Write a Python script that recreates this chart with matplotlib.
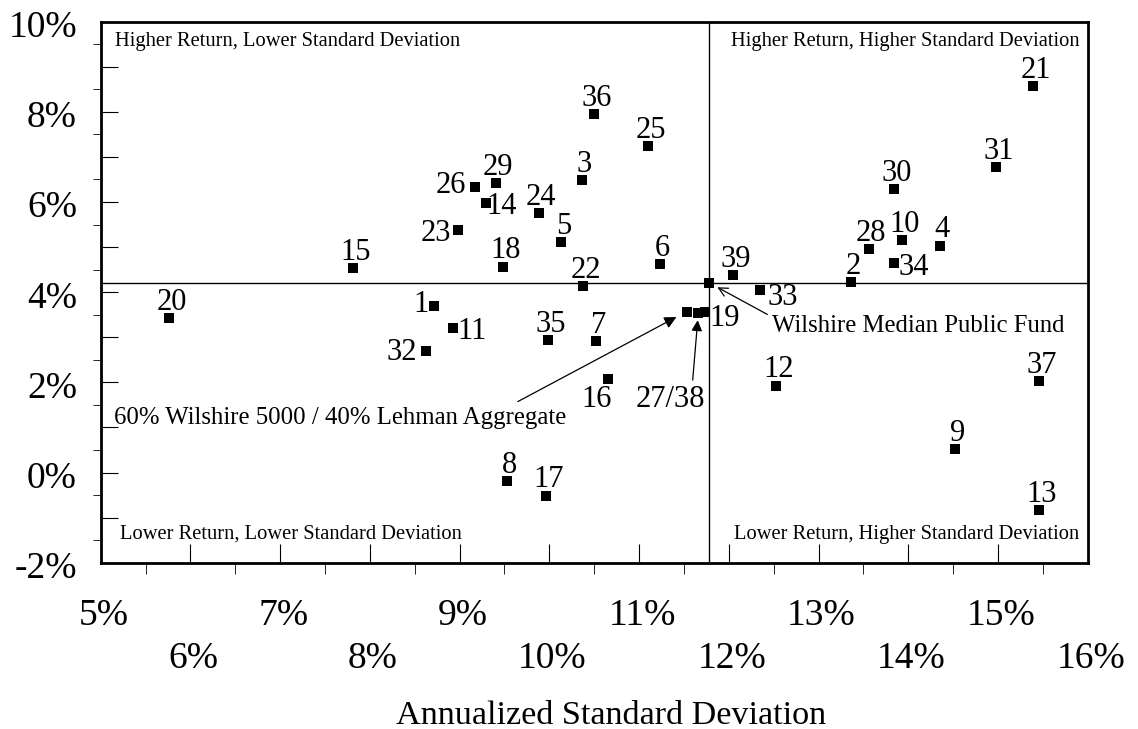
import matplotlib
matplotlib.use("Agg")
import matplotlib.pyplot as plt
import numpy as np

plt.rcParams['font.family'] = ['Liberation Serif', 'DejaVu Serif']

# funds: annualized standard deviation (%) and annualized return (%)
fund_labels = ["1", "2", "3", "4", "5", "6", "7", "8", "9", "10",
               "11", "12", "13", "14", "15", "16", "17", "18", "19", "20",
               "21", "22", "23", "24", "25", "26", "27/38", "28", "29", "30",
               "31", "32", "33", "34", "35", "36", "37", "39"]
fund_std = [8.71, 13.36, 10.36, 14.35, 10.13, 11.23, 10.52, 9.53, 14.52, 13.93,
            8.93, 12.53, 15.46, 9.29, 7.81, 10.65, 9.96, 9.48, 11.73, 5.76,
            15.39, 10.38, 8.98, 9.88, 11.10, 9.17, 11.66, 13.56, 9.40, 13.84,
            14.98, 8.63, 12.35, 13.84, 9.99, 10.50, 15.46, 12.05]
fund_ret = [3.70, 4.23, 6.48, 5.03, 5.11, 4.62, 2.91, -0.19, 0.52, 5.15,
            3.21, 1.93, -0.84, 5.98, 4.54, 2.07, -0.51, 4.57, 3.55, 3.42,
            8.57, 4.14, 5.39, 5.75, 7.24, 6.33, 3.53, 4.96, 6.42, 6.29,
            6.78, 2.70, 4.05, 4.64, 2.94, 7.95, 2.03, 4.38]

# benchmarks
median_name = "Wilshire Median Public Fund"
median_std, median_ret = 11.78, 4.21
mix_name = "60% Wilshire 5000 / 40% Lehman Aggregate"
mix_std, mix_ret = 11.53, 3.57

x_ticks = list(range(5, 17))
y_ticks = list(range(-2, 11, 2))

quadrants = ["Higher Return, Lower Standard Deviation",
             "Higher Return, Higher Standard Deviation",
             "Lower Return, Lower Standard Deviation",
             "Lower Return, Higher Standard Deviation"]

# label placement in pixels relative to the marker (dx, dy up, ha)
label_place = {
    "1": (-5, -6, 'right'), "23": (-6.8, -11.4, 'right'),
    "26": (-8.6, -6, 'right'), "32": (-9, -9.3, 'right'),
    "11": (3.6, -11.6, 'left'), "14": (1, -10.6, 'left'),
    "19": (4.7, -13.4, 'left'), "33": (7, -15, 'left'),
    "34": (5, -11.7, 'left'), "16": (-10.7, -27.7, 'center'),
}

fig = plt.figure(figsize=(11.38, 7.29), dpi=100)
ax = fig.add_axes([100.7 / 1138, 1 - 562.7 / 729, 987 / 1138, 541 / 729])
ax.set_xlim(5, 16)
ax.set_ylim(-2, 10)

for s in ax.spines.values():
    s.set_linewidth(2.0)

ax.set_xticks(x_ticks)
ax.set_xticks(np.arange(5.5, 16, 1), minor=True)
ax.set_yticks(range(-2, 11))
ax.set_yticks(np.arange(-1.5, 10, 1), minor=True)
ax.tick_params(labelbottom=False, labelleft=False, direction='in', width=0.8)
ax.tick_params(axis='x', which='major', length=13.5)
ax.tick_params(axis='x', which='minor', length=7.6)
ax.tick_params(axis='y', which='major', length=12.2)
ax.tick_params(axis='y', which='minor', length=5.9)

# tick labels
for v in y_ticks:
    ax.annotate(f"{v}%", xy=(0, v), xycoords=ax.get_yaxis_transform(),
                xytext=(-23.8, -15.3), textcoords='offset pixels',
                ha='right', va='baseline', fontsize=27)
for i, v in enumerate(x_ticks):
    off = -62.3 if i % 2 == 0 else -105.6
    ax.annotate(f"{v}%", xy=(v, 0), xycoords=ax.get_xaxis_transform(),
                xytext=(3, off), textcoords='offset pixels',
                ha='center', va='baseline', fontsize=27)

ax.annotate("Annualized Standard Deviation", xy=(0.5, 0), xycoords='axes fraction',
            xytext=(17, -161.3), textcoords='offset pixels',
            ha='center', va='baseline', fontsize=24.6)

# quadrant dividers through the median fund
ax.axvline(median_std, color='black', lw=1.0)
ax.axhline(median_ret, color='black', lw=1.0)

ax.annotate(quadrants[0], xy=(0, 1), xycoords='axes fraction', xytext=(14.3, -24.3),
            textcoords='offset pixels', ha='left', va='baseline', fontsize=14.8)
ax.annotate(quadrants[1], xy=(1, 1), xycoords='axes fraction', xytext=(-8, -24.3),
            textcoords='offset pixels', ha='right', va='baseline', fontsize=14.8)
ax.annotate(quadrants[2], xy=(0, 0), xycoords='axes fraction', xytext=(18.8, 23.7),
            textcoords='offset pixels', ha='left', va='baseline', fontsize=14.8)
ax.annotate(quadrants[3], xy=(1, 0), xycoords='axes fraction', xytext=(-8, 23.7),
            textcoords='offset pixels', ha='right', va='baseline', fontsize=14.8)

# markers
ax.plot(fund_std, fund_ret, 's', color='black', ms=7.2, mew=0, zorder=3)
ax.plot([median_std, mix_std], [median_ret, mix_ret], 's', color='black', ms=7.2, mew=0, zorder=3)

for lab, xs, ys in zip(fund_labels, fund_std, fund_ret):
    if lab == "27/38":
        ax.annotate(lab, xy=(xs, ys), xytext=(-27.7, -93.4), textcoords='offset pixels',
                    ha='center', va='baseline', fontsize=22)
        ax.annotate("", xy=(xs, ys), xytext=(-5.6, -66.7), textcoords='offset pixels',
                    arrowprops=dict(arrowstyle='-|>', color='black', lw=0.9,
                                    shrinkA=0, shrinkB=4.9, mutation_scale=16))
        continue
    dx, dy, ha = label_place.get(lab, (2.5, 8.3, 'center'))
    ax.annotate(lab, xy=(xs, ys), xytext=(dx, dy), textcoords='offset pixels',
                ha=ha, va='baseline', fontsize=22)

# benchmark annotations
ax.annotate(median_name, xy=(median_std, median_ret), xytext=(62.6, -49.4),
            textcoords='offset pixels', ha='left', va='baseline', fontsize=17.8)
ax.annotate("", xy=(median_std, median_ret), xytext=(58.3, -31.7), textcoords='offset pixels',
            arrowprops=dict(arrowstyle='->', color='black', lw=0.9,
                            shrinkA=0, shrinkB=6.8, mutation_scale=16))
ax.annotate(mix_name, xy=(mix_std, mix_ret), xytext=(-572.4, -112.6),
            textcoords='offset pixels', ha='left', va='baseline', fontsize=17.8)
ax.annotate("", xy=(mix_std, mix_ret), xytext=(-168.8, -90), textcoords='offset pixels',
            arrowprops=dict(arrowstyle='-|>', color='black', lw=0.9,
                            shrinkA=0, shrinkB=8.3, mutation_scale=18))

fig.savefig("out.png", dpi=100)
